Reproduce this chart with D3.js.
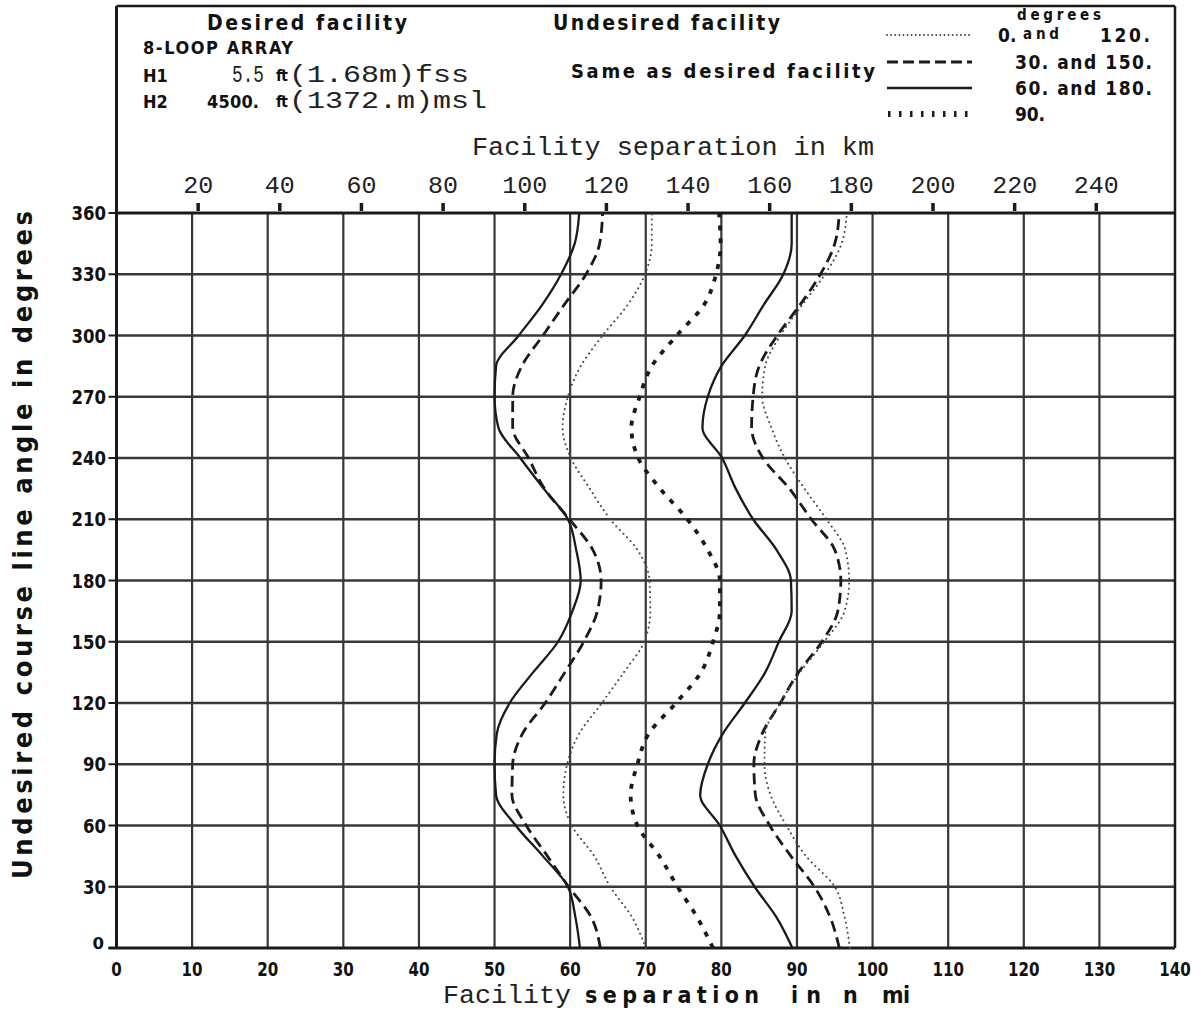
<!DOCTYPE html>
<html>
<head>
<meta charset="utf-8">
<script src="https://cdn.jsdelivr.net/npm/d3@7"></script>
<style>
  html, body { margin: 0; padding: 0; background: #fff; }
  svg { display: block; }
  .plot { font-family: "DejaVu Sans Condensed", "DejaVu Sans", sans-serif; font-weight: bold; fill: #111; }
  .mono { font-family: "Liberation Mono", "DejaVu Sans Mono", monospace; font-weight: normal; fill: #222; }
</style>
</head>
<body>
<script>
// Undesired course line angle (degrees), sampled every 15 degrees
const angles = [0, 15, 30, 45, 60, 75, 90, 105, 120, 135, 150, 165, 180,
                195, 210, 225, 240, 255, 270, 285, 300, 315, 330, 345, 360];

// Required facility separation (n mi) for each pair of azimuths
const sepSolidA  = [61.3, 60.7, 59.7, 56.4, 52.8, 50.2, 50.0, 50.3, 52.0, 55.1, 58.4, 60.3, 61.4,
                    60.8, 59.7, 56.5, 53.4, 50.5, 50.0, 50.2, 53.2, 56.3, 58.8, 60.6, 61.2];
const sepDashA   = [64.0, 62.8, 59.8, 57.0, 54.2, 52.3, 52.4, 53.7, 56.7, 59.3, 61.8, 63.6, 64.1,
                    63.0, 59.9, 56.6, 54.5, 52.4, 52.4, 53.6, 56.4, 59.2, 62.1, 63.9, 64.3];
const sepDotA    = [70.0, 68.2, 65.3, 63.2, 60.2, 59.1, 59.6, 61.2, 64.2, 67.1, 69.8, 70.6, 70.5,
                    68.9, 65.3, 62.6, 60.1, 59.0, 59.7, 61.4, 64.3, 67.6, 69.9, 70.8, 70.8];
const sepHeavyDot = [78.9, 76.8, 74.2, 71.8, 68.9, 68.0, 68.9, 70.4, 74.0, 77.3, 78.9, 79.8, 79.8,
                    78.2, 75.5, 71.9, 69.0, 68.1, 69.2, 70.8, 74.1, 77.7, 79.3, 79.9, 79.7];
const sepSolidB  = [89.4, 87.3, 84.4, 81.9, 79.8, 77.2, 78.2, 80.2, 83.1, 85.8, 87.6, 89.3, 89.2,
                    87.3, 84.2, 81.9, 80.1, 77.5, 78.2, 80.0, 83.1, 85.6, 88.2, 89.3, 89.3];
const sepDashB   = [95.6, 94.4, 92.3, 89.2, 86.4, 84.5, 84.3, 85.4, 87.8, 90.2, 93.3, 95.4, 95.8,
                    95.0, 91.9, 89.0, 85.5, 84.0, 84.2, 85.0, 87.4, 90.4, 93.1, 95.0, 95.6];
const sepDotB    = [97.0, 96.3, 95.0, 91.2, 88.6, 86.5, 85.7, 85.8, 87.8, 90.4, 93.6, 96.3, 96.9,
                    96.4, 93.9, 91.0, 88.4, 86.6, 85.4, 85.8, 87.8, 90.7, 93.7, 95.9, 96.6];

// Axis ticks
const nmiTicks = [0, 10, 20, 30, 40, 50, 60, 70, 80, 90, 100, 110, 120, 130, 140];
const kmTicks = [20, 40, 60, 80, 100, 120, 140, 160, 180, 200, 220, 240];
const angleTicks = [0, 30, 60, 90, 120, 150, 180, 210, 240, 270, 300, 330, 360];

// Legend entries
const legendRows = ["0. and 120.", "30. and 150.", "60. and 180.", "90."];

const W = 1203, H = 1014;
const svg = d3.select("body").append("svg").attr("width", W).attr("height", H);

const x = d3.scaleLinear().domain([0, 140]).range([116.5, 1175]);
const y = d3.scaleLinear().domain([0, 360]).range([948, 213]);
const KM_PER_NMI = 1.852;

const ink = "#1a1a1a", grid = "#383838";

// Grid
const g = svg.append("g");
g.selectAll(".vg").data(nmiTicks.slice(1, -1)).join("line")
  .attr("x1", d => x(d)).attr("x2", d => x(d)).attr("y1", y(360)).attr("y2", y(0))
  .attr("stroke", grid).attr("stroke-width", 2.2);
g.selectAll(".hg").data(angleTicks.slice(1, -1)).join("line")
  .attr("x1", x(0)).attr("x2", x(140)).attr("y1", d => y(d)).attr("y2", d => y(d))
  .attr("stroke", grid).attr("stroke-width", 2.4);

// Frame: header box and plot border
const frame = svg.append("g").attr("stroke", ink).attr("fill", "none");
frame.append("line").attr("x1", x(0)).attr("x2", x(140)).attr("y1", 6).attr("y2", 6).attr("stroke-width", 2.5);
frame.append("line").attr("x1", x(0)).attr("x2", x(0)).attr("y1", 6).attr("y2", y(0)).attr("stroke-width", 3);
frame.append("line").attr("x1", x(140)).attr("x2", x(140)).attr("y1", 6).attr("y2", y(0)).attr("stroke-width", 2.5);
frame.append("line").attr("x1", x(0)).attr("x2", x(140)).attr("y1", y(360)).attr("y2", y(360)).attr("stroke-width", 3.2);
frame.append("line").attr("x1", x(0) - 8).attr("x2", x(140)).attr("y1", y(0)).attr("y2", y(0)).attr("stroke-width", 3.2);

// Left angle axis
const yAxis = svg.append("g");
yAxis.selectAll("line").data(angleTicks).join("line")
  .attr("x1", x(0) - 8).attr("x2", x(0)).attr("y1", d => y(d)).attr("y2", d => y(d))
  .attr("stroke", ink).attr("stroke-width", 2);
yAxis.selectAll("text").data(angleTicks).join("text")
  .attr("class", "plot")
  .attr("x", d => d === 0 ? 104 : 106)
  .attr("y", d => d === 0 ? y(d) + 1 : y(d) + 7)
  .attr("text-anchor", "end")
  .attr("font-size", d => d === 0 ? 15 : 19)
  .attr("textLength", d => String(d).length * 11.5)
  .attr("lengthAdjust", "spacingAndGlyphs")
  .text(d => d);

svg.append("text").attr("class", "plot")
  .attr("transform", "translate(32,545) rotate(-90)")
  .attr("text-anchor", "middle")
  .attr("font-size", 27)
  .attr("textLength", 668).attr("lengthAdjust", "spacing")
  .text("Undesired course line angle in degrees");

// Bottom n mi axis
const xAxis = svg.append("g");
xAxis.selectAll("text").data(nmiTicks).join("text")
  .attr("class", "plot")
  .attr("x", d => x(d)).attr("y", 976)
  .attr("text-anchor", "middle")
  .attr("font-size", 20)
  .attr("textLength", d => String(d).length * 10.5)
  .attr("lengthAdjust", "spacingAndGlyphs")
  .text(d => d);

const bt = svg.append("text").attr("y", 1003);
bt.append("tspan").attr("class", "mono").attr("x", 443).attr("font-size", 25)
  .attr("textLength", 128).attr("lengthAdjust", "spacingAndGlyphs").text("Facility");
bt.append("tspan").attr("class", "plot").attr("x", 585).attr("font-size", 23)
  .attr("textLength", 174).attr("lengthAdjust", "spacing").text("separation");
bt.append("tspan").attr("class", "plot").attr("x", 791).attr("font-size", 23)
  .attr("textLength", 30).attr("lengthAdjust", "spacing").text("in");
bt.append("tspan").attr("class", "plot").attr("x", 843).attr("font-size", 23).text("n");
bt.append("tspan").attr("class", "plot").attr("x", 882).attr("font-size", 23)
  .attr("textLength", 28).attr("lengthAdjust", "spacing").text("mi");

// Top km axis
const kAxis = svg.append("g");
kAxis.selectAll("line").data(kmTicks).join("line")
  .attr("x1", d => x(d / KM_PER_NMI)).attr("x2", d => x(d / KM_PER_NMI))
  .attr("y1", 203).attr("y2", 211)
  .attr("stroke", ink).attr("stroke-width", 3.5);
kAxis.selectAll("text").data(kmTicks).join("text")
  .attr("class", "mono")
  .attr("x", d => x(d / KM_PER_NMI)).attr("y", 193)
  .attr("text-anchor", "middle")
  .attr("font-size", 24)
  .attr("textLength", d => String(d).length * 15)
  .attr("lengthAdjust", "spacingAndGlyphs")
  .text(d => d);
svg.append("text").attr("class", "mono")
  .attr("x", 472).attr("y", 155).attr("font-size", 25)
  .attr("textLength", 402).attr("lengthAdjust", "spacingAndGlyphs")
  .text("Facility separation in km");

// Header text
const hdr = svg.append("g");
function ptext(str, xx, yy, size, len) {
  const t = hdr.append("text").attr("class", "plot").attr("x", xx).attr("y", yy)
    .attr("font-size", size).text(str);
  if (len) t.attr("textLength", len).attr("lengthAdjust", "spacing");
  return t;
}
function mtext(str, xx, yy, size, len) {
  const t = hdr.append("text").attr("class", "mono").attr("x", xx).attr("y", yy)
    .attr("font-size", size).text(str);
  if (len) t.attr("textLength", len).attr("lengthAdjust", "spacingAndGlyphs");
  return t;
}
ptext("Desired facility", 207, 30, 21, 200);
ptext("8-LOOP ARRAY", 143, 54, 18, 150);
ptext("H1", 143, 82, 18);
mtext("5.5", 232, 82, 24, 32);
ptext("ft", 276, 81, 16, 12);
mtext("(1.68m)fss", 289, 82, 24, 180);
ptext("H2", 143, 108, 18);
ptext("4500.", 207, 108, 18, 52);
ptext("ft", 276, 107, 16, 12);
mtext("(1372.m)msl", 289, 108, 24, 198);
ptext("Undesired facility", 553, 30, 21, 227);
ptext("Same as desired facility", 571, 78, 20, 304);

// Legend
const legendY = [35, 62, 88, 114];
const lg = svg.append("g");
lg.append("line").attr("x1", 887).attr("x2", 972).attr("y1", legendY[0]).attr("y2", legendY[0])
  .attr("stroke", "#444").attr("stroke-width", 1.8).attr("stroke-linecap", "round").attr("stroke-dasharray", "0.1,4");
lg.append("line").attr("x1", 887).attr("x2", 972).attr("y1", legendY[1]).attr("y2", legendY[1])
  .attr("stroke", ink).attr("stroke-width", 3).attr("stroke-dasharray", "11,5");
lg.append("line").attr("x1", 887).attr("x2", 972).attr("y1", legendY[2]).attr("y2", legendY[2])
  .attr("stroke", ink).attr("stroke-width", 2.4);
lg.append("line").attr("x1", 888).attr("x2", 972).attr("y1", legendY[3]).attr("y2", legendY[3])
  .attr("stroke", ink).attr("stroke-width", 6).attr("stroke-dasharray", "2.5,8.5");

ptext("degrees", 1017, 20, 15, 84);
ptext("0.", 998, 42, 19);
ptext("and", 1023, 39, 15, 36);
ptext("120.", 1100, 42, 19, 50);
legendRows.slice(1).forEach((s, i) => {
  ptext(s, 1015, legendY[i + 1] + 7, 19, s.length > 4 ? 137 : 30);
});

// Curves
const line = d3.line().x(d => x(d[1])).y(d => y(d[0])).curve(d3.curveMonotoneY);
const series = [
  { vals: sepSolidA,  style: "solid" },
  { vals: sepDashA,   style: "dash" },
  { vals: sepDotA,    style: "dot" },
  { vals: sepHeavyDot, style: "heavy" },
  { vals: sepSolidB,  style: "solid" },
  { vals: sepDashB,   style: "dash" },
  { vals: sepDotB,    style: "dot" }
];
const styles = {
  solid: { w: 2.3, c: ink, dash: null, cap: "butt" },
  dash:  { w: 2.8, c: ink, dash: "11,6", cap: "butt" },
  dot:   { w: 2.0, c: "#4a4a4a", dash: "0.1,5", cap: "round" },
  heavy: { w: 3.8, c: ink, dash: "5,8", cap: "butt" }
};
svg.append("g").selectAll("path").data(series).join("path")
  .attr("d", s => line(angles.map((a, i) => [a, s.vals[i]])))
  .attr("fill", "none")
  .attr("stroke", s => styles[s.style].c)
  .attr("stroke-width", s => styles[s.style].w)
  .attr("stroke-linecap", s => styles[s.style].cap)
  .attr("stroke-dasharray", s => styles[s.style].dash);
</script>
</body>
</html>
